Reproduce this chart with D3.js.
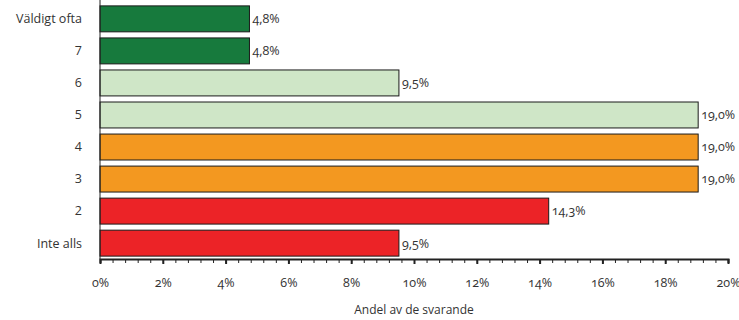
<!DOCTYPE html>
<html>
  <head>
    <meta charset="utf-8">
    <title>Andel av de svarande</title>
    <script src="https://d3js.org/d3.v7.min.js" charset="utf-8"></script>
    <style>
      body { margin: 0; background: #fff; }
      text { font-family: "Open Sans", "DejaVu Sans", sans-serif; fill: #333; }
      .num { font-feature-settings: "onum"; font-variant-numeric: oldstyle-nums; }
    </style>
  </head>
  <body>
    <script>
      // categories from top to bottom
      var categories = ["Väldigt ofta", "7", "6", "5", "4", "3", "2", "Inte alls"];
      // share of respondents, percent
      var values = [4.76, 4.76, 9.52, 19.05, 19.05, 19.05, 14.29, 9.52];
      var valueLabels = ["4,8%", "4,8%", "9,5%", "19,0%", "19,0%", "19,0%", "14,3%", "9,5%"];
      var barColors = ["#177a3d", "#177a3d", "#cfe6c7", "#cfe6c7", "#f39820", "#f39820", "#ec2327", "#ec2327"];
      var majorTicks = [0, 2, 4, 6, 8, 10, 12, 14, 16, 18, 20];
      var axisTitle = "Andel av de svarande";

      var width = 739,
          height = 320;
      var margin = {top: 3, right: 11, bottom: 61, left: 100};

      var svg = d3.select("body").append("svg")
          .attr("width", width)
          .attr("height", height);

      var x = d3.scaleLinear()
          .domain([0, 20])
          .range([margin.left, width - margin.right]);

      var y = d3.scaleBand()
          .domain(categories)
          .range([margin.top, height - margin.bottom])
          .paddingInner(0.19)
          .paddingOuter(0.09);

      var axisY = height - margin.bottom;

      // bars
      svg.selectAll("rect.bar")
          .data(categories)
          .enter()
          .append("rect")
          .attr("class", "bar")
          .attr("x", x(0))
          .attr("y", function(d) { return y(d); })
          .attr("width", function(d, i) { return x(values[i]) - x(0); })
          .attr("height", y.bandwidth())
          .attr("fill", function(d, i) { return barColors[i]; })
          .attr("stroke", "#1a1a1a")
          .attr("stroke-width", 1);

      // value labels
      svg.selectAll("text.val")
          .data(categories)
          .enter()
          .append("text")
          .attr("class", "val num")
          .attr("x", function(d, i) { return x(values[i]) + 3; })
          .attr("y", function(d) { return y(d) + y.bandwidth() / 2; })
          .attr("dy", "0.35em")
          .attr("font-size", 12.5)
          .text(function(d, i) { return valueLabels[i]; });

      // category labels
      svg.selectAll("text.cat")
          .data(categories)
          .enter()
          .append("text")
          .attr("class", "cat")
          .attr("x", margin.left - 18)
          .attr("y", function(d) { return y(d) + y.bandwidth() / 2; })
          .attr("dy", "0.35em")
          .attr("text-anchor", "end")
          .attr("font-size", 12.5)
          .text(function(d) { return d; });

      // y axis line
      svg.append("line")
          .attr("x1", x(0)).attr("x2", x(0))
          .attr("y1", 0).attr("y2", axisY)
          .attr("stroke", "#222").attr("stroke-width", 1);

      // x axis: minor ticks every 0.4%
      var minor = d3.axisBottom(x)
          .tickValues(d3.range(0, 20.001, 0.4))
          .tickSize(4)
          .tickFormat("");
      svg.append("g")
          .attr("transform", "translate(0," + axisY + ")")
          .call(minor)
          .call(function(g) {
            g.select(".domain").attr("stroke", "#222").attr("stroke-width", 2);
            g.selectAll(".tick line").attr("stroke", "#222");
          });

      var major = d3.axisBottom(x)
          .tickValues(majorTicks)
          .tickSize(5)
          .tickPadding(14)
          .tickFormat(function(d) { return d + "%"; });
      svg.append("g")
          .attr("transform", "translate(0," + axisY + ")")
          .call(major)
          .call(function(g) {
            g.select(".domain").remove();
            g.selectAll(".tick line").attr("stroke", "#222").attr("stroke-width", 2);
            g.selectAll(".tick text")
              .attr("class", "num")
              .attr("font-size", 12.5)
              .attr("font-family", null)
              .attr("fill", null);
          });

      // axis title
      svg.append("text")
          .attr("x", (x(0) + x(20)) / 2)
          .attr("y", 314)
          .attr("text-anchor", "middle")
          .attr("font-size", 12)
          .text(axisTitle);
    </script>
  </body>
</html>
